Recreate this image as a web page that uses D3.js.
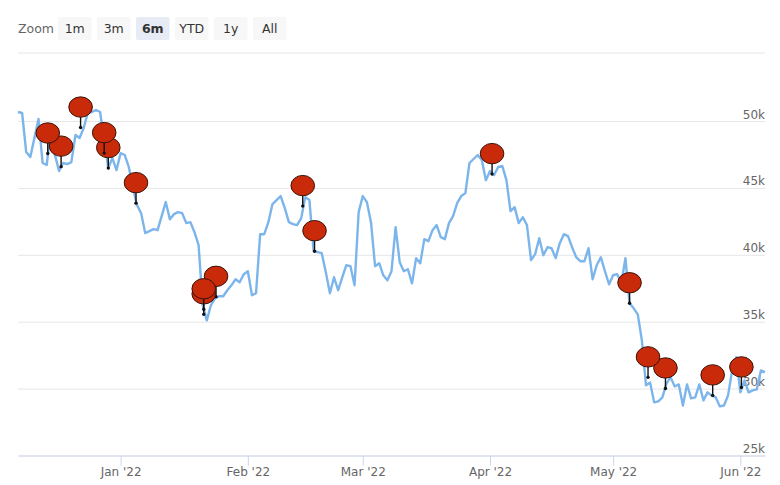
<!DOCTYPE html>
<html>
<head>
<meta charset="utf-8">
<script src="https://cdn.jsdelivr.net/npm/d3@7"></script>
<style>
  html, body { margin: 0; padding: 0; background: #fff; }
  svg { display: block; }
  text { font-family: "DejaVu Sans", sans-serif; }
</style>
</head>
<body>
<svg width="780" height="485"></svg>
<script>
const zoomButtons = ["1m", "3m", "6m", "YTD", "1y", "All"];
const selectedButton = "6m";

const startDate = "2021-12-07";
// one close per day starting at startDate
const prices = [
  50670, 50600, 47680, 47310, 48730, 50150, 46860, 46710, 49480, 47460,
  46260, 46860, 46780, 46930, 48950, 48730, 49480, 50600, 50670, 50820,
  50670, 48580, 46480, 47230, 46330, 47600, 47460, 46560, 44990, 43710,
  43110, 41620, 41770, 41920, 41840, 42890, 43940, 42660, 43040, 43190,
  43110, 42370, 42440, 41690, 40720, 36230, 35100, 36230, 36750, 36900,
  36900, 37350, 37720, 38170, 37950, 38550, 38770, 36980, 37130, 41540,
  41540, 42440, 43790, 44090, 44390, 43490, 42440, 42290, 42220, 42740,
  44310, 44090, 40340, 40200, 40120, 38700, 37130, 38320, 37350, 38320,
  39220, 39150, 37720, 43190, 44390, 43940, 42440, 39150, 39370, 38470,
  38100, 38770, 42070, 39450, 38770, 38920, 37870, 39750, 39370, 41170,
  41020, 41840, 42220, 41320, 41170, 42370, 42890, 43860, 44390, 44610,
  46860, 47160, 47460, 47080, 45580, 46260, 45960, 46560, 46630, 45580,
  43260, 43560, 42370, 42810, 42220, 39600, 40050, 41240, 39970, 40570,
  40490, 39750, 40870, 41540, 41390, 40570, 39820, 39520, 39520, 40490,
  38170, 39220, 39820, 38770, 37800, 38470, 38550, 37870, 39750, 36380,
  36000, 35550, 33610, 30240, 30460, 28970, 29040, 29340, 30390, 30840,
  30160, 30310, 28740, 30310, 29270, 29340, 30310, 29120, 29720, 29490,
  29340, 28670, 28740, 29490, 31360, 32340, 29720, 30610, 29720, 29870,
  29940, 31360, 31210
];

const flagDates = [
  "2021-12-14T06:00Z", "2021-12-17T12:00Z", "2021-12-22T06:00Z", "2021-12-28T00:00Z", "2021-12-29T00:00Z", "2022-01-04T18:00Z",
  "2022-01-21T06:00Z", "2022-01-21T06:00Z", "2022-01-24T06:00Z", "2022-02-14T09:00Z", "2022-02-17T06:00Z", "2022-04-01T12:00Z",
  "2022-05-05T00:00Z", "2022-05-09T12:00Z", "2022-05-13T18:00Z", "2022-05-25T06:00Z", "2022-06-01T06:00Z"
];
const flagValues = [
  47570, 46590, 49510, 47600, 46480, 43860,
  35930, 35550, 36860, 43640, 40270, 46030,
  36380, 30840, 30010, 29490, 30090
];

const yTicks = [25000, 30000, 35000, 40000, 45000, 50000];
const xTicks = ["2022-01-01", "2022-02-01", "2022-03-01", "2022-04-01", "2022-05-01", "2022-06-01"];

const parseDay = d3.utcParse("%Y-%m-%d");
const start = parseDay(startDate);
const series = prices.map((v, i) => ({ date: d3.utcDay.offset(start, i), value: v }));

const plotLeft = 18, plotRight = 765, plotTop = 121, plotBottom = 455.5;
const x = d3.scaleUtc().domain(d3.extent(series, d => d.date)).range([plotLeft, plotRight]);
const y = d3.scaleLinear().domain([25000, 50000]).range([plotBottom, plotTop]);

const svg = d3.select("svg");

// range selector row
svg.append("text").attr("x", 18).attr("y", 33).attr("fill", "#666").attr("font-size", 12.5).text("Zoom");

const btn = svg.selectAll("g.btn")
  .data(zoomButtons)
  .enter()
  .append("g")
  .attr("class", "btn")
  .attr("transform", (d, i) => `translate(${58 + i * 39},17)`);

btn.append("rect")
  .attr("width", 33.5).attr("height", 23).attr("rx", 2)
  .attr("fill", d => d === selectedButton ? "#e6ebf5" : "#f7f7f7");

btn.append("text")
  .attr("x", 16.75).attr("y", 15.5)
  .attr("text-anchor", "middle")
  .attr("font-size", 12.5)
  .attr("font-weight", d => d === selectedButton ? "bold" : "normal")
  .attr("fill", "#333")
  .text(d => d);

svg.append("line")
  .attr("x1", plotLeft).attr("x2", plotRight).attr("y1", 53).attr("y2", 53)
  .attr("stroke", "#e6e6e6");

// axes
const yAxis = d3.axisRight(y)
  .tickValues(yTicks)
  .tickSize(-(plotRight - plotLeft))
  .tickFormat(d => d / 1000 + "k");

const yG = svg.append("g").attr("transform", `translate(${plotRight},0)`).call(yAxis);
yG.select(".domain").remove();
yG.selectAll("line").attr("stroke", "#e6e6e6");
yG.selectAll("text")
  .attr("x", 0).attr("dy", -3)
  .attr("text-anchor", "end")
  .attr("fill", "#666")
  .attr("font-size", 12)
  .attr("font-family", "DejaVu Sans");

const xAxis = d3.axisBottom(x)
  .tickValues(xTicks.map(parseDay))
  .tickSize(10)
  .tickSizeOuter(0)
  .tickFormat(d3.utcFormat("%b '%y"));

const xG = svg.append("g").attr("transform", `translate(0,${plotBottom})`).call(xAxis);
xG.select(".domain").attr("stroke", "#ccd6eb");
xG.selectAll("line").attr("stroke", "#ccd6eb");
xG.selectAll("text")
  .attr("y", 20).attr("dy", 0)
  .attr("fill", "#666")
  .attr("font-size", 12)
  .attr("font-family", "DejaVu Sans");

// price line
const line = d3.line().x(d => x(d.date)).y(d => y(d.value));

svg.append("path")
  .datum(series)
  .attr("fill", "none")
  .attr("stroke", "#7cb5ec")
  .attr("stroke-width", 2.4)
  .attr("stroke-linejoin", "round")
  .attr("d", line);

// flags, last one first so the earlier ones sit on top
const flagData = flagDates.map((d, i) => ({ date: d3.isoParse(d), value: flagValues[i] })).reverse();

const flag = svg.selectAll("g.flag")
  .data(flagData)
  .enter()
  .append("g")
  .attr("class", "flag")
  .attr("transform", d => `translate(${x(d.date)},${y(d.value)})`);

flag.append("line")
  .attr("y1", -12).attr("y2", 0)
  .attr("stroke", "#111").attr("stroke-width", 1.4);

flag.append("circle").attr("r", 1.7).attr("fill", "#111");

flag.append("ellipse")
  .attr("cy", -20.5).attr("rx", 11.8).attr("ry", 10.2)
  .attr("fill", "#c92a0a")
  .attr("stroke", "#3a1208").attr("stroke-width", 1);
</script>
</body>
</html>
